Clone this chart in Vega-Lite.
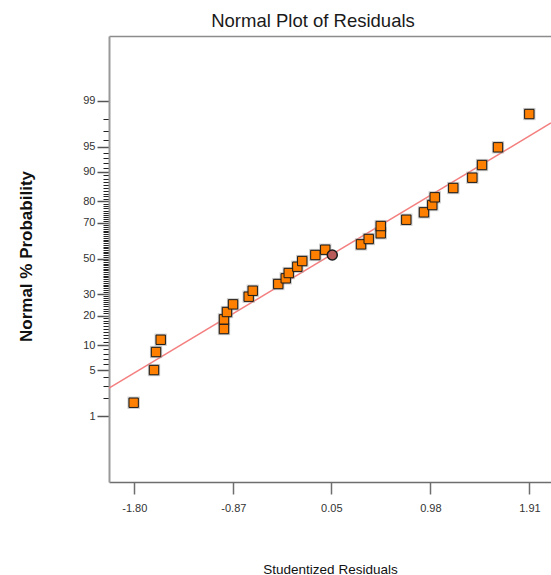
{
  "$schema": "https://vega.github.io/schema/vega-lite/v6.json",
  "width": 442,
  "height": 446,
  "autosize": {"type": "none"},
  "padding": {"left": 109, "top": 36, "right": 0, "bottom": 93},
  "background": "white",
  "config": {
    "view": {"stroke": null},
    "axis": {"grid": false}
  },
  "title": {
    "text": "Normal Plot of Residuals",
    "font": "Liberation Sans, Arial, sans-serif",
    "fontSize": 18.5,
    "fontWeight": "normal",
    "color": "#1a1a1a",
    "anchor": "middle",
    "dx": -17,
    "dy": 19,
    "offset": 10,
    "baseline": "alphabetic"
  },
  "datasets": {
    "pts": [
      {"x": -1.806, "z": -2.127},
      {"x": -1.615, "z": -1.645},
      {"x": -1.596, "z": -1.379},
      {"x": -1.552, "z": -1.198},
      {"x": -0.958, "z": -1.040},
      {"x": -0.958, "z": -0.897},
      {"x": -0.930, "z": -0.789},
      {"x": -0.873, "z": -0.676},
      {"x": -0.726, "z": -0.563},
      {"x": -0.688, "z": -0.475},
      {"x": -0.448, "z": -0.376},
      {"x": -0.378, "z": -0.292},
      {"x": -0.350, "z": -0.214},
      {"x": -0.269, "z": -0.121},
      {"x": -0.223, "z": -0.037},
      {"x": -0.100, "z": 0.052},
      {"x": -0.007, "z": 0.130},
      {"x": 0.329, "z": 0.209},
      {"x": 0.401, "z": 0.288},
      {"x": 0.514, "z": 0.372},
      {"x": 0.514, "z": 0.479},
      {"x": 0.754, "z": 0.572},
      {"x": 0.920, "z": 0.681},
      {"x": 0.998, "z": 0.789},
      {"x": 1.021, "z": 0.903},
      {"x": 1.195, "z": 1.040},
      {"x": 1.374, "z": 1.192},
      {"x": 1.465, "z": 1.379},
      {"x": 1.615, "z": 1.640},
      {"x": 1.909, "z": 2.131}
    ],
    "center": [
      {"x": 0.059, "z": 0.052}
    ],
    "fit": [
      {"x": -2.0376, "z": -1.910},
      {"x": 2.1127, "z": 1.999}
    ]
  },
  "layer": [
    {
      "data": {"name": "fit"},
      "mark": {"type": "line", "color": "#f47f7f", "strokeWidth": 1.5, "clip": true},
      "encoding": {
        "x": {
          "field": "x", "type": "quantitative",
          "scale": {"domain": [-2.0376, 2.1127], "nice": false, "zero": false},
          "axis": {"orient": "top", "ticks": false, "labels": false, "title": null, "domain": true, "domainColor": "#8c8c8c", "domainWidth": 1.5, "minExtent": 0, "maxExtent": 0}
        },
        "y": {
          "field": "z", "type": "quantitative",
          "scale": {"domain": [-3.296, 3.282], "nice": false, "zero": false},
          "axis": {
            "orient": "left", "labels": false, "title": null, "domain": false,
            "tickSize": 6, "tickColor": "#222", "tickWidth": 1,
            "values": [-2.3263,-2.0537,-1.8808,-1.7507,-1.6449,-1.5548,-1.4758,-1.4051,-1.3408,-1.2816,-1.2265,-1.1750,-1.1264,-1.0803,-1.0364,-0.9945,-0.9542,-0.9154,-0.8779,-0.8416,-0.8064,-0.7722,-0.7388,-0.7063,-0.6745,-0.6433,-0.6128,-0.5828,-0.5534,-0.5244,-0.4959,-0.4677,-0.4399,-0.4125,-0.3853,-0.3585,-0.3319,-0.3055,-0.2793,-0.2533,-0.2275,-0.2019,-0.1764,-0.1510,-0.1257,-0.1004,-0.0753,-0.0502,-0.0251,0,0.0251,0.0502,0.0753,0.1004,0.1257,0.1510,0.1764,0.2019,0.2275,0.2533,0.2793,0.3055,0.3319,0.3585,0.3853,0.4125,0.4399,0.4677,0.4959,0.5244,0.5534,0.5828,0.6128,0.6433,0.6745,0.7063,0.7388,0.7722,0.8064,0.8416,0.8779,0.9154,0.9542,0.9945,1.0364,1.0803,1.1264,1.1750,1.2265,1.2816,1.3408,1.4051,1.4758,1.5548,1.6449,1.7507,1.8808,2.0537,2.3263]
          }
        }
      }
    },
    {
      "data": {"name": "pts"},
      "mark": {"type": "point", "shape": "square", "filled": true, "size": 150, "color": "#9a9a9a", "opacity": 0.55},
      "encoding": {
        "x": {"field": "x", "type": "quantitative", "axis": null},
        "y": {"field": "z", "type": "quantitative", "axis": null}
      }
    },
    {
      "data": {"name": "pts"},
      "mark": {"type": "point", "shape": "square", "filled": true, "size": 88, "fill": "#ff8000", "stroke": "#1a1a1a", "strokeWidth": 1, "opacity": 1},
      "encoding": {
        "x": {
          "field": "x", "type": "quantitative",
          "axis": {
            "orient": "bottom",
            "values": [-1.8, -0.87, 0.05, 0.98, 1.91],
            "labelExpr": "replace(format(datum.value, '.2f'), '\u2212', '-')",
            "domainColor": "#6e6e6e", "domainWidth": 1.5,
            "tickColor": "#6e6e6e", "tickWidth": 1.5, "tickSize": 12,
            "labelFont": "Liberation Sans, Arial, sans-serif",
            "labelFontSize": 11, "labelColor": "#333", "labelPadding": 8, "labelFlush": false,
            "title": "Studentized Residuals",
            "titleFont": "Liberation Sans, Arial, sans-serif",
            "titleFontSize": 13.5, "titleFontWeight": "normal", "titleColor": "#111",
            "titleBaseline": "alphabetic", "titleY": 91
          }
        },
        "y": {
          "field": "z", "type": "quantitative",
          "axis": {
            "orient": "left",
            "values": [-2.3263, -1.6449, -1.2816, -0.8416, -0.5244, 0, 0.5244, 0.8416, 1.2816, 1.6449, 2.3263],
            "labelExpr": "format(round(cumulativeNormal(datum.value) * 100), 'd')",
            "domainColor": "#999", "domainWidth": 2,
            "tickColor": "#555", "tickWidth": 1.5, "tickSize": 12,
            "labelFont": "Liberation Sans, Arial, sans-serif",
            "labelFontSize": 11, "labelColor": "#333", "labelPadding": 2,
            "title": "Normal % Probability",
            "titleFont": "Liberation Sans, Arial, sans-serif",
            "titleFontSize": 17, "titleFontWeight": "bold", "titleColor": "#111",
            "titleAngle": 270, "titleAlign": "center", "titleBaseline": "alphabetic",
            "titleX": -78, "titleY": 220
          }
        }
      }
    },
    {
      "data": {"name": "center"},
      "mark": {"type": "point", "shape": "circle", "filled": true, "size": 100, "fill": "#b85a5a", "stroke": "#1a1a1a", "strokeWidth": 1.5, "opacity": 1},
      "encoding": {
        "x": {"field": "x", "type": "quantitative", "axis": null},
        "y": {"field": "z", "type": "quantitative", "axis": null}
      }
    }
  ],
  "resolve": {"axis": {"x": "independent", "y": "independent"}}
}
